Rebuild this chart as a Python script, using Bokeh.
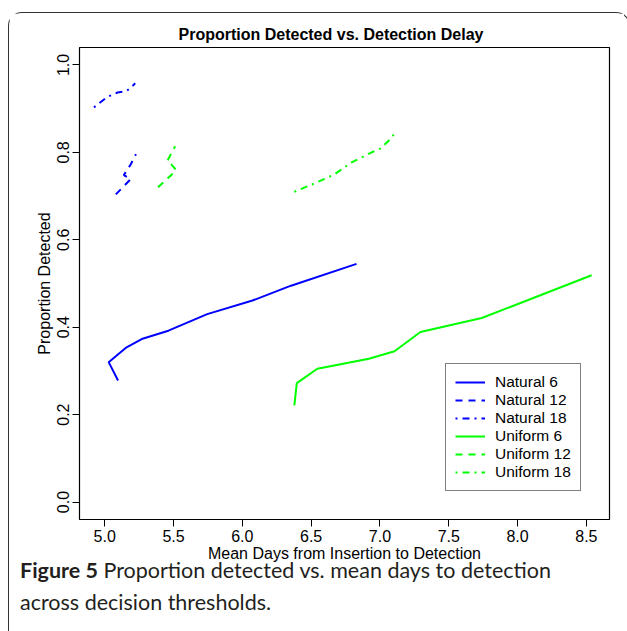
from bokeh.plotting import figure
from bokeh.models import Legend, LegendItem, FixedTicker, Div, Range1d
from bokeh.layouts import column
from bokeh.embed import file_html
from bokeh.resources import INLINE

# ---- data ----
nat6_x = [5.097, 5.029, 5.159, 5.269, 5.463, 5.745, 6.074, 6.354, 6.830]
nat6_y = [0.278, 0.320, 0.354, 0.373, 0.392, 0.430, 0.461, 0.495, 0.545]

nat12_x = [5.081, 5.190, 5.139, 5.190, 5.227]
nat12_y = [0.704, 0.739, 0.748, 0.773, 0.796]

nat18_x = [4.922, 5.020, 5.093, 5.154, 5.178, 5.222]
nat18_y = [0.903, 0.927, 0.937, 0.940, 0.945, 0.958]

uni6_x = [6.378, 6.396, 6.545, 6.920, 7.106, 7.294, 7.740, 8.538]
uni6_y = [0.221, 0.272, 0.305, 0.328, 0.345, 0.389, 0.421, 0.519]

uni12_x = [5.388, 5.520, 5.483, 5.454, 5.512]
uni12_y = [0.720, 0.759, 0.773, 0.780, 0.814]

uni18_x = [6.378, 6.525, 6.671, 6.794, 6.940, 7.004, 7.062, 7.111]
uni18_y = [0.710, 0.729, 0.750, 0.777, 0.800, 0.809, 0.826, 0.845]

x_ticks = [5.0, 5.5, 6.0, 6.5, 7.0, 7.5, 8.0, 8.5]
x_tick_labels = ["5.0", "5.5", "6.0", "6.5", "7.0", "7.5", "8.0", "8.5"]
y_ticks = [0.0, 0.2, 0.4, 0.6, 0.8, 1.0]
y_tick_labels = ["0.0", "0.2", "0.4", "0.6", "0.8", "1.0"]

series_names = ["Natural 6", "Natural 12", "Natural 18", "Uniform 6", "Uniform 12", "Uniform 18"]

FONT = "Liberation Sans"
BLUE = "#0000FF"
GREEN = "#00FF00"

p = figure(width=615, height=551, output_backend="svg", toolbar_location=None,
           x_range=Range1d(4.817, 8.668), y_range=Range1d(-0.04, 1.04),
           min_border_left=70, min_border_right=15, min_border_top=34, min_border_bottom=20,
           title="Proportion Detected vs. Detection Delay")
p.title.text_font = FONT
p.title.text_font_size = "16px"
p.title.text_font_style = "bold"
p.title.align = "left"
p.title.offset = 99
p.title.text_color = "black"

p.grid.visible = False
p.outline_line_color = "black"
p.outline_line_width = 1.2
p.background_fill_color = "white"
p.border_fill_color = "white"

for ax in (p.xaxis[0], p.yaxis[0]):
    ax.axis_line_color = None
    ax.major_tick_out = 7
    ax.major_tick_in = 0
    ax.minor_tick_line_color = None
    ax.major_tick_line_color = "black"
    ax.major_label_text_font = FONT
    ax.major_label_text_font_size = "16px"
    ax.major_label_text_color = "black"
    ax.axis_label_text_font = FONT
    ax.axis_label_text_font_size = "16px"
    ax.axis_label_text_font_style = "normal"
    ax.axis_label_text_color = "black"

p.xaxis.ticker = FixedTicker(ticks=x_ticks)
p.xaxis.major_label_overrides = dict(zip(x_ticks, x_tick_labels))
p.yaxis.ticker = FixedTicker(ticks=y_ticks)
p.yaxis.major_label_overrides = dict(zip(y_ticks, y_tick_labels))
p.yaxis.major_label_orientation = "vertical"
p.xaxis.axis_label = "Mean Days from Insertion to Detection"
p.yaxis.axis_label = "Proportion Detected"
p.xaxis.axis_label_standoff = 0
p.yaxis.axis_label_standoff = 2
p.xaxis.major_label_standoff = 3
p.yaxis.major_label_standoff = 3

DASH = "7 6"
DOTDASH = "2 5 7 5"

r1 = p.line(nat6_x, nat6_y, line_color=BLUE, line_width=2)
r2 = p.line(nat12_x, nat12_y, line_color=BLUE, line_width=2, line_dash=DASH)
r3 = p.line(nat18_x, nat18_y, line_color=BLUE, line_width=2, line_dash=DOTDASH)
r4 = p.line(uni6_x, uni6_y, line_color=GREEN, line_width=2)
r5 = p.line(uni12_x, uni12_y, line_color=GREEN, line_width=2, line_dash=DASH)
r6 = p.line(uni18_x, uni18_y, line_color=GREEN, line_width=2, line_dash=DOTDASH)

legend = Legend(items=[LegendItem(label=n, renderers=[r]) for n, r in
                       zip(series_names, [r1, r2, r3, r4, r5, r6])],
                location=(366, 28))
legend.border_line_color = "black"
legend.border_line_width = 1
legend.background_fill_alpha = 1
legend.label_text_font = FONT
legend.label_text_font_size = "15.5px"
legend.label_text_color = "black"
legend.spacing = 0
legend.padding = 9
legend.margin = 0
legend.label_height = 18
legend.glyph_height = 18
legend.glyph_width = 30
legend.label_standoff = 10
p.add_layout(legend, "center")

cap = Div(text='<div style="margin-top:-15px"><span style="font-weight:700">Figure 5</span> Proportion detected vs. mean days to detection<br>across decision thresholds.</div>',
          width=610, height=70,
          styles={"font-family": "Lato", "font-size": "21.5px", "color": "#231f20",
                  "line-height": "32px", "padding-left": "6px"})

root = column(p, cap, margin=(12, 0, 0, 8),
              styles={"border-top": "1.5px solid #333", "border-left": "1.5px solid #333",
                      "border-right": "1.5px solid #333",
                      "border-radius": "14px 14px 0 0", "background": "white"})

open("out.html", "w").write(file_html(root, INLINE))
